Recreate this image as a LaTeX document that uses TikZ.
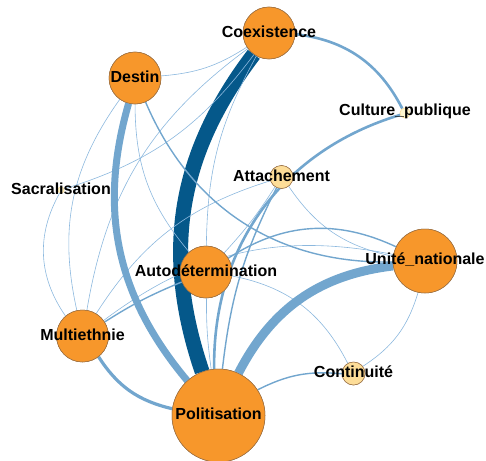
\documentclass[tikz,border=0pt]{standalone}
\usepackage{fontspec}
\setmainfont{Liberation Sans}
\definecolor{nodeorange}{RGB}{247,151,43}
\definecolor{nodelight}{RGB}{253,221,152}
\definecolor{nodepale}{RGB}{255,247,208}
\definecolor{nodeline}{RGB}{150,110,70}
\definecolor{edgedark}{RGB}{5,88,138}
\definecolor{edgeblue}{RGB}{114,166,206}
\definecolor{edgethin}{RGB}{140,184,222}
\tikzset{
  gnode/.style={circle, draw=nodeline, line width=0.5pt, inner sep=0pt, fill=nodeorange},
  lnode/.style={gnode, fill=nodelight},
  pnode/.style={gnode, fill=nodepale, draw=nodelight},
  lbl/.style={font=\fontsize{16}{16}\selectfont\bfseries, text=black, inner sep=0pt, yshift=1.5pt},
  e1/.style={draw=edgethin, line width=0.6pt},
  e2/.style={draw=edgeblue, line width=1.4pt},
}
\begin{document}
\begin{tikzpicture}[x=1pt,y=-1pt]
\useasboundingbox (0,0) rectangle (486,460);
% nodes (positions)
\node[gnode, minimum size=52pt] (coex) at (269,33) {};
\node[gnode, minimum size=52pt] (dest) at (135,78) {};
\node[pnode, minimum size=10pt] (cult) at (405,113) {};
\node[lnode, minimum size=23pt] (atta) at (281.5,177) {};
\node[pnode, minimum size=6pt] (sacr) at (61,190) {};
\node[gnode, minimum size=52pt] (auto) at (206,272) {};
\node[gnode, minimum size=64pt] (unit) at (425,261) {};
\node[gnode, minimum size=52pt] (mult) at (82.5,336) {};
\node[lnode, minimum size=23pt] (cont) at (353.5,373.5) {};
\node[gnode, minimum size=93pt] (poli) at (218.5,415.5) {};
% edges
\draw[draw=edgedark, line width=15pt] (coex) to[bend right=28] (poli);
\draw[e1] (coex) to[bend right=14] (auto);
\draw[e1] (coex) to[bend right=22] (mult);
\draw[e1] (dest) to[bend right=14] (coex);
\draw[e1] (dest) to[bend right=24] (mult);
\draw[e1] (dest) to[bend right=20] (auto);
\draw[e1] (sacr) to[bend right=32] (mult);
\draw[e1] (sacr) to[bend right=18] (coex);
\draw[e1] (mult) to[bend left=20] (atta);
\draw[e1] (atta) to[bend left=5] (auto);
\draw[e1] (atta) to[bend right=22] (unit);
\draw[e1] (auto) to[bend left=26] (cont);
\draw[e1] (unit) to[bend left=20] (cont);
\draw[e1] (auto) to[bend right=4] (poli);
\draw[e1] (mult) to[bend left=24] (unit);
\draw[e2] (dest) to[bend right=34] (unit);
\draw[e2] (mult) to[bend left=5] (auto);
\draw[e2] (auto) to[bend left=29] (unit);
\draw[e2] (atta) to[bend right=10] (poli);
\draw[e2] (poli) to[bend left=16] (cont);
\draw[draw=edgeblue, line width=2.6pt] (coex) to[bend left=28] (cult);
\draw[draw=edgeblue, line width=2.6pt] (cult) to[bend right=37] (poli);
\draw[draw=edgeblue, line width=3.2pt] (mult) to[bend right=22] (poli);
\draw[draw=edgeblue, line width=7pt] (dest) to[bend right=28] (poli);
\draw[draw=edgeblue, line width=9pt] (unit) to[bend right=28] (poli);
% redraw nodes on top
\node[gnode, minimum size=52pt] (coex-c) at (coex) {};
\node[gnode, minimum size=52pt] (dest-c) at (dest) {};
\node[pnode, minimum size=10pt] (cult-c) at (cult) {};
\node[lnode, minimum size=23pt] (atta-c) at (atta) {};
\node[pnode, minimum size=6pt] (sacr-c) at (sacr) {};
\node[gnode, minimum size=52pt] (auto-c) at (auto) {};
\node[gnode, minimum size=64pt] (unit-c) at (unit) {};
\node[gnode, minimum size=52pt] (mult-c) at (mult) {};
\node[lnode, minimum size=23pt] (cont-c) at (cont) {};
\node[gnode, minimum size=93pt] (poli-c) at (poli) {};
% labels
\node[lbl] (coex-l) at (coex) {Coexistence};
\node[lbl] (dest-l) at (dest) {Destin};
\node[lbl] (cult-l) at (cult) {Culture\_publique};
\node[lbl] (atta-l) at (atta) {Attachement};
\node[lbl] (sacr-l) at (sacr) {Sacralisation};
\node[lbl] (auto-l) at (auto) {Autodétermination};
\node[lbl] (unit-l) at (unit) {Unité\_nationale};
\node[lbl] (mult-l) at (mult) {Multiethnie};
\node[lbl] (cont-l) at (cont) {Continuité};
\node[lbl] (poli-l) at (poli) {Politisation};
\end{tikzpicture}
\end{document}
